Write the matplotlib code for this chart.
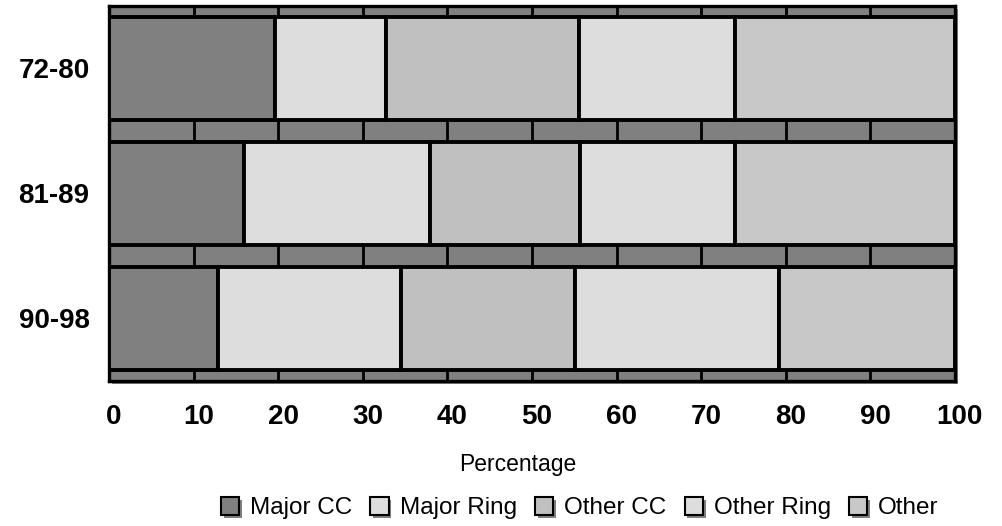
import numpy as np
import matplotlib.pyplot as plt
from matplotlib.patches import Rectangle
import matplotlib.patheffects as pe
from matplotlib.transforms import ScaledTranslation

plt.rcParams['font.family'] = ['Liberation Sans', 'DejaVu Sans']

periodos = ['72-80', '81-89', '90-98']
series = ['Major CC', 'Major Ring', 'Other CC', 'Other Ring', 'Other']
valores = {
    'Major CC':   [19.6, 16.0, 12.9],
    'Major Ring': [13.2, 22.0, 21.6],
    'Other CC':   [22.8, 17.7, 20.6],
    'Other Ring': [18.4, 18.3, 24.1],
    'Other':      [26.0, 26.0, 20.8],
}
colores = ['#808080', '#dddddd', '#c0c0c0', '#dddddd', '#c8c8c8']
xticks = np.arange(0, 101, 10)

fig = plt.figure(figsize=(10.03, 5.26), dpi=100)
ax = fig.add_axes([0.1087, 0.2757, 0.8433, 0.7129])

# sombra del area de grafico
sombra = Rectangle((0.1087 + 0.003, 0.2757 - 0.006), 0.8433, 0.7129,
                   transform=fig.transFigure, facecolor='#808080',
                   edgecolor='none', zorder=-10)
fig.patches.append(sombra)

ax.set_facecolor('#808080')
y = np.arange(len(periodos))
izq = np.zeros(len(periodos))
for nombre, col in zip(series, colores):
    v = np.array(valores[nombre])
    ax.barh(y, v, left=izq, height=0.82, color=col, edgecolor='black',
            linewidth=2.8, zorder=3)
    izq += v

ax.set_xlim(0, 100)
ax.set_ylim(2.5, -0.5)
ax.set_xticks(xticks)
ax.set_yticks(y)
ax.set_yticklabels(periodos, fontsize=20, fontweight='bold')
ax.set_xticklabels([str(t) for t in xticks], fontsize=20, fontweight='bold')
ax.tick_params(axis='x', length=0, pad=16.5)
ax.tick_params(axis='y', length=0, pad=14)
desplazar = ScaledTranslation(0.05, 0, fig.dpi_scale_trans)
for lab in ax.get_xticklabels():
    lab.set_transform(lab.get_transform() + desplazar)
ax.grid(axis='x', color='black', linewidth=2)
ax.set_axisbelow(True)
for s in ax.spines.values():
    s.set_linewidth(2.4)
    s.set_color('black')
ax.set_xlabel('Percentage', fontsize=16.5)
ax.xaxis.set_label_coords(0.483, -0.192)

handles = [Rectangle((0, 0), 1, 1, facecolor=c, edgecolor='black', linewidth=1.5,
                     path_effects=[pe.SimplePatchShadow(offset=(2, -2), shadow_rgbFace='#808080', alpha=1),
                                   pe.Normal()])
           for c in colores]
fig.legend(handles, series, loc='center', bbox_to_anchor=(0.578, 0.034), ncol=5,
           frameon=False, fontsize=17.5, handlelength=0.75, handleheight=0.8,
           handletextpad=0.45, columnspacing=0.75)

plt.savefig('out.png', dpi=100)
